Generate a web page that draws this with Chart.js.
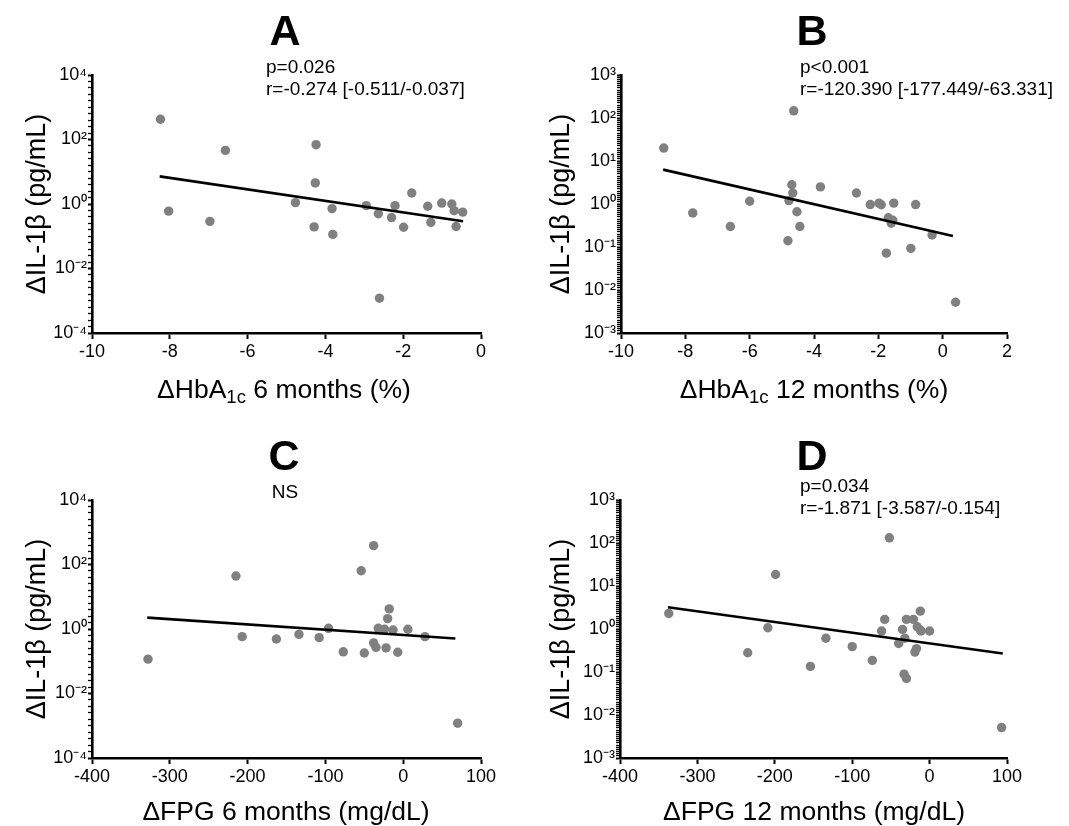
<!DOCTYPE html>
<html>
<head>
<meta charset="utf-8">
<script src="https://cdn.jsdelivr.net/npm/chart.js@4/dist/chart.umd.min.js"></script>
<style>
  body { margin: 0; background: #fff; width: 1069px; height: 826px; position: relative; overflow: hidden;
         font-family: "Liberation Sans", Arial, sans-serif; color: #000; }
  .panel { position: absolute; width: 534px; height: 413px; }
  .panel canvas { position: absolute; left: 0; top: 0; }
  .letter { position: absolute; font-weight: bold; font-size: 43px; line-height: 42px; transform: translateX(-50%); }
  .note { position: absolute; font-size: 19px; line-height: 22px; white-space: nowrap; }
  .ns { transform: translateX(-50%); }
  .xt { position: absolute; font-size: 26.5px; line-height: 32px; white-space: nowrap; transform: translateX(-50%); }
  .xt sub { font-size: 0.7em; vertical-align: -0.28em; line-height: 0; }
</style>
</head>
<body>
<div class="panel" style="left:0;top:0"><canvas id="chartA" width="534" height="413"></canvas></div>
<div class="panel" style="left:535px;top:0"><canvas id="chartB" width="534" height="413"></canvas></div>
<div class="panel" style="left:0;top:413px"><canvas id="chartC" width="534" height="413"></canvas></div>
<div class="panel" style="left:535px;top:413px"><canvas id="chartD" width="534" height="413"></canvas></div>

<div class="letter" style="left:285px;top:9px">A</div>
<div class="letter" style="left:812px;top:9px">B</div>
<div class="letter" style="left:284px;top:434px">C</div>
<div class="letter" style="left:812px;top:434px">D</div>

<div class="note" style="left:266px;top:56px">p=0.026<br>r=-0.274 [-0.511/-0.037]</div>
<div class="note" style="left:800px;top:56px">p&lt;0.001<br>r=-120.390 [-177.449/-63.331]</div>
<div class="note ns" style="left:285px;top:481px">NS</div>
<div class="note" style="left:800px;top:475px">p=0.034<br>r=-1.871 [-3.587/-0.154]</div>

<div class="xt" style="left:284px;top:373px">&Delta;HbA<sub>1c</sub> 6 months (%)</div>
<div class="xt" style="left:814px;top:373px">&Delta;HbA<sub>1c</sub> 12 months (%)</div>
<div class="xt" style="left:286px;top:795px">&Delta;FPG 6 months (mg/dL)</div>
<div class="xt" style="left:814px;top:795px">&Delta;FPG 12 months (mg/dL)</div>

<script>
(function () {
  "use strict";

  // ── Data ─────────────────────────────────────────────────────────
  // A: ΔHbA1c 6 months vs ΔIL-1β
  var hba6X = [-8.24, -8.03, -6.97, -6.57, -4.77, -4.24, -4.26, -4.29, -3.83, -3.81, -2.95, -2.64,
               -2.61, -2.30, -2.21, -1.99, -1.78, -1.37, -1.29, -1.01, -0.75, -0.69, -0.64, -0.47];
  var hba6Y = [426, 0.60, 0.29, 46, 1.1, 69, 4.5, 0.195, 0.72, 0.114, 0.89, 0.50,
               0.0012, 0.38, 0.89, 0.19, 2.2, 0.85, 0.27, 1.07, 1.0, 0.62, 0.20, 0.56];
  var fitAX = [-8.26, -0.46];
  var fitAY = [7.2, 0.29];

  // B: ΔHbA1c 12 months vs ΔIL-1β
  var hba12X = [-8.67, -7.77, -6.60, -6.00, -4.81, -4.78, -4.69, -4.66, -4.63, -4.53, -4.44, -3.80, -2.68,
                -2.25, -1.98, -1.91, -1.75, -1.69, -1.60, -1.55, -1.52, -0.99, -0.84, -0.33, 0.40];
  var hba12Y = [20, 0.62, 0.30, 1.16, 0.14, 1.2, 2.8, 1.8, 147, 0.66, 0.30, 2.5, 1.8,
                0.97, 1.05, 0.96, 0.072, 0.48, 0.36, 0.42, 1.05, 0.093, 0.97, 0.19, 0.0052];
  var fitBX = [-8.69, 0.32];
  var fitBY = [6.3, 0.18];

  // C: ΔFPG 6 months vs ΔIL-1β
  var fpg6X = [-328, -215, -207, -163, -134, -108, -96, -77, -54, -50, -38, -38,
               -35, -32, -24, -22, -20, -18, -13, -7, 6, 28, 70];
  var fpg6Y = [0.116, 44, 0.58, 0.49, 0.68, 0.54, 1.05, 0.196, 64, 0.18, 386, 0.37,
               0.27, 1.05, 0.98, 0.26, 2.1, 4.2, 0.93, 0.19, 0.98, 0.58, 0.0012];
  var fitCX = [-329, 67];
  var fitCY = [2.25, 0.51];

  // D: ΔFPG 12 months vs ΔIL-1β
  var fpg12X = [-337, -235, -209, -199, -154, -134, -100, -74, -62, -58, -52, -40, -35,
                -33, -32, -30, -30, -21, -19, -17, -16, -12, -12, -11, 0, 93];
  var fpg12Y = [2.3, 0.28, 1.07, 18.5, 0.135, 0.61, 0.39, 0.186, 0.90, 1.67, 132, 0.46, 0.98,
                0.089, 0.61, 1.67, 0.071, 1.67, 0.29, 0.35, 1.13, 0.95, 2.6, 0.90, 0.90, 0.0051];
  var fitDX = [-338, 94.5];
  var fitDY = [3.2, 0.27];

  // Axis ranges / ticks
  var hbaRangeA = [-10, 0];
  var hbaRangeB = [-10, 2];
  var fpgRange = [-400, 100];
  var expRangeAC = [-4, 4];   // labelled every 2nd decade
  var expRangeBD = [-3, 3];   // labelled every decade

  var FONT = "'Liberation Sans', Arial, sans-serif";
  var SUP = { "0": "\u2070", "1": "\u00b9", "2": "\u00b2", "3": "\u00b3", "4": "\u2074", "-": "\u207b" };

  function toPoints(xs, ys) {
    return xs.map(function (x, i) { return { x: x, y: ys[i] }; });
  }

  function decadeOf(v) {
    var l = Math.log10(v);
    return Math.abs(l - Math.round(l)) < 1e-9 ? Math.round(l) : null;
  }

  function isLabelled(v, every) {
    var e = decadeOf(v);
    return e !== null && e % every === 0;
  }

  function decadeLabel(v, every) {
    if (!isLabelled(v, every)) return "";
    var e = String(decadeOf(v));
    return "10" + e.split("").map(function (c) { return SUP[c]; }).join("");
  }

  // decades plus evenly spaced minor marks (in log space)
  function logTicks(lo, hi, perDecade) {
    var out = [];
    for (var e = lo; e < hi; e++) {
      out.push({ value: Math.pow(10, e) });
      for (var j = 1; j < perDecade; j++) out.push({ value: Math.pow(10, e + j / perDecade) });
    }
    out.push({ value: Math.pow(10, hi) });
    return out;
  }

  function makePanel(id, p) {
    new Chart(document.getElementById(id), {
      type: "scatter",
      data: {
        datasets: [
          {
            data: toPoints(p.fitX, p.fitY),
            showLine: true,
            borderColor: "#000",
            borderWidth: 2.6,
            pointRadius: 0,
            fill: false,
          },
          {
            data: toPoints(p.xs, p.ys),
            backgroundColor: "#808080",
            borderWidth: 0,
            pointRadius: 4.7,
          },
        ],
      },
      options: {
        responsive: false,
        animation: false,
        events: [],
        layout: { padding: { left: 0, top: p.top, right: 534 - p.right, bottom: 0 } },
        plugins: { legend: { display: false }, tooltip: { enabled: false } },
        scales: {
          x: {
            type: "linear",
            min: p.xRange[0],
            max: p.xRange[1],
            ticks: {
              stepSize: p.xStep,
              autoSkip: false,
              maxRotation: 0,
              color: "#000",
              padding: 2,
              font: { family: FONT, size: 18 },
            },
            grid: { drawOnChartArea: false, tickLength: 6, tickColor: "#000", tickWidth: 2 },
            border: { color: "#000", width: 2.6 },
            afterFit: function (s) { s.height = 413 - p.bottom; },
          },
          y: {
            type: "logarithmic",
            min: Math.pow(10, p.expRange[0]),
            max: Math.pow(10, p.expRange[1]),
            afterBuildTicks: function (s) {
              s.ticks = logTicks(p.expRange[0], p.expRange[1], p.minor);
            },
            ticks: {
              autoSkip: false,
              color: "#000",
              padding: 1,
              font: { family: FONT, size: 18 },
              callback: function (v) { return decadeLabel(v, p.labelEvery); },
            },
            grid: {
              drawOnChartArea: false,
              tickLength: 4,
              tickColor: "#000",
              tickWidth: function (ctx) {
                return ctx.tick && isLabelled(ctx.tick.value, p.labelEvery) ? 2 : 1.3;
              },
            },
            border: { color: "#000", width: 2.6 },
            title: {
              display: true,
              text: "\u0394IL-1\u03b2 (pg/mL)",
              color: "#000",
              font: { family: FONT, size: 27 },
              padding: { top: p.titlePad, bottom: 0 },
            },
            afterFit: function (s) { s.width = p.left; },
          },
        },
      },
    });
  }

  makePanel("chartA", { xs: hba6X, ys: hba6Y, fitX: fitAX, fitY: fitAY, xRange: hbaRangeA, xStep: 2,
    expRange: expRangeAC, labelEvery: 2, minor: 5, left: 92, right: 481, top: 75, bottom: 333, titlePad: 21 });
  makePanel("chartB", { xs: hba12X, ys: hba12Y, fitX: fitBX, fitY: fitBY, xRange: hbaRangeB, xStep: 2,
    expRange: expRangeBD, labelEvery: 1, minor: 20, left: 86, right: 472, top: 75, bottom: 333, titlePad: 10 });
  makePanel("chartC", { xs: fpg6X, ys: fpg6Y, fitX: fitCX, fitY: fitCY, xRange: fpgRange, xStep: 100,
    expRange: expRangeAC, labelEvery: 2, minor: 5, left: 92, right: 481, top: 87, bottom: 345, titlePad: 21 });
  makePanel("chartD", { xs: fpg12X, ys: fpg12Y, fitX: fitDX, fitY: fitDY, xRange: fpgRange, xStep: 100,
    expRange: expRangeBD, labelEvery: 1, minor: 20, left: 85, right: 472, top: 87, bottom: 345, titlePad: 10 });
})();
</script>
</body>
</html>
